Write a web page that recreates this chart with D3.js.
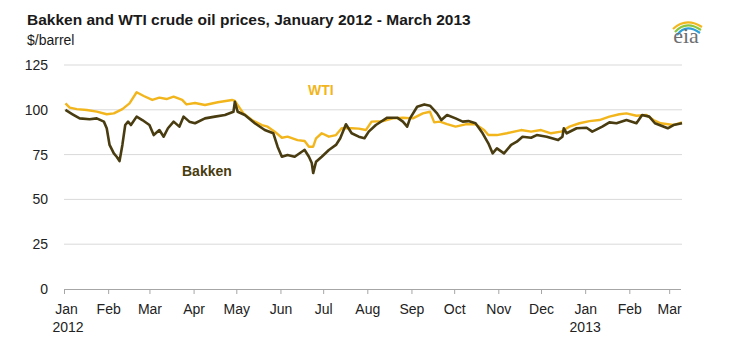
<!DOCTYPE html>
<html>
<head>
<meta charset="utf-8">
<script src="https://cdn.jsdelivr.net/npm/d3@7"></script>
<style>
  html, body { margin: 0; padding: 0; background: #fff; }
  svg { display: block; font-family: "Liberation Sans", Arial, sans-serif; }
</style>
</head>
<body>
<svg id="chart" width="734" height="345"></svg>
<script>
// Daily spot prices, $/barrel
const wtiDates = [
  "2012-01-02","2012-01-05","2012-01-10","2012-01-17","2012-01-24","2012-01-31",
  "2012-02-05","2012-02-11","2012-02-16","2012-02-21","2012-02-26","2012-03-03",
  "2012-03-08","2012-03-13","2012-03-18","2012-03-24","2012-03-27","2012-04-02",
  "2012-04-09","2012-04-18","2012-04-28","2012-04-30","2012-05-06","2012-05-12",
  "2012-05-19","2012-05-23","2012-05-28","2012-06-02","2012-06-06","2012-06-13",
  "2012-06-18","2012-06-21","2012-06-24","2012-06-26","2012-06-30","2012-07-05",
  "2012-07-10","2012-07-14","2012-07-21","2012-07-26","2012-07-31","2012-08-04",
  "2012-08-12","2012-08-19","2012-08-26","2012-09-02","2012-09-09","2012-09-14",
  "2012-09-17","2012-09-21","2012-09-26","2012-10-02","2012-10-09","2012-10-16",
  "2012-10-22","2012-10-25","2012-10-31","2012-11-07","2012-11-17","2012-11-24",
  "2012-12-01","2012-12-08","2012-12-15","2012-12-21","2012-12-28","2013-01-04",
  "2013-01-11","2013-01-18","2013-01-25","2013-01-30","2013-02-06","2013-02-13",
  "2013-02-18","2013-02-23","2013-03-04","2013-03-10"
];
const wtiValues = [
  103.6,101.2,100.4,99.9,99.0,97.5,
  98.0,100.4,103.6,109.8,107.7,105.5,
  106.8,106.0,107.3,105.5,103.0,103.8,
  102.7,104.2,105.5,105.0,98.0,94.3,
  91.5,90.6,87.8,84.4,85.0,83.1,
  82.6,79.4,79.4,84.1,86.9,85.0,
  85.9,89.7,89.7,89.5,88.7,93.4,
  93.7,95.2,95.6,95.2,98.0,98.9,
  93.0,93.4,92.0,90.6,91.9,91.9,
  88.7,85.9,85.9,86.9,88.7,87.8,
  88.7,86.9,87.8,90.6,92.5,93.7,
  94.3,96.2,97.5,98.0,96.7,97.1,
  94.3,92.5,91.5,93.0
];

const bakkenDates = [
  "2012-01-02","2012-01-07","2012-01-12","2012-01-19","2012-01-24","2012-01-29",
  "2012-01-31","2012-02-02","2012-02-05","2012-02-07","2012-02-09","2012-02-11",
  "2012-02-13","2012-02-15","2012-02-17","2012-02-21","2012-02-25","2012-03-01",
  "2012-03-04","2012-03-08","2012-03-11","2012-03-14","2012-03-18","2012-03-22",
  "2012-03-25","2012-03-29","2012-04-02","2012-04-09","2012-04-16","2012-04-23",
  "2012-04-29","2012-04-30","2012-05-02","2012-05-07","2012-05-14","2012-05-21",
  "2012-05-27","2012-05-30","2012-06-02","2012-06-06","2012-06-11","2012-06-16",
  "2012-06-18","2012-06-21","2012-06-23","2012-06-24","2012-06-26","2012-06-30",
  "2012-07-05","2012-07-10","2012-07-13","2012-07-17","2012-07-21","2012-07-26",
  "2012-07-30","2012-08-02","2012-08-07","2012-08-15","2012-08-22","2012-08-26",
  "2012-08-29","2012-08-31","2012-09-05","2012-09-10","2012-09-14","2012-09-19",
  "2012-09-22","2012-09-26","2012-10-02","2012-10-07","2012-10-11","2012-10-16",
  "2012-10-21","2012-10-25","2012-10-28","2012-10-31","2012-11-05","2012-11-10",
  "2012-11-14","2012-11-18","2012-11-24","2012-11-28","2012-12-05","2012-12-13",
  "2012-12-16","2012-12-17","2012-12-19","2012-12-26","2013-01-02","2013-01-06",
  "2013-01-13","2013-01-18","2013-01-23","2013-01-30","2013-02-06","2013-02-10",
  "2013-02-15","2013-02-19","2013-02-28","2013-03-04","2013-03-10"
];
const bakkenValues = [
  99.9,97.5,95.2,94.7,95.2,93.4,
  89.7,80.4,75.7,73.8,71.4,80.4,
  91.5,93.4,91.5,96.2,94.3,91.5,
  85.9,88.7,85.0,89.7,93.4,90.6,
  96.2,93.4,92.5,95.2,96.2,97.1,
  98.9,104.5,98.9,97.1,92.5,88.7,
  86.9,79.4,73.8,74.8,73.8,76.6,
  77.6,73.8,70.3,64.7,71.0,73.8,
  77.6,80.4,84.1,91.9,86.9,85.0,
  84.1,87.8,91.5,95.6,95.6,93.4,
  90.6,95.2,101.7,103.0,102.3,98.0,
  94.3,97.1,95.2,93.4,93.7,92.5,
  86.9,81.3,75.7,78.5,75.7,80.4,
  82.2,85.0,84.4,85.9,85.0,83.1,
  85.0,89.7,86.9,89.7,90.0,87.8,
  90.6,93.0,92.5,94.3,92.5,97.1,
  96.2,92.5,89.7,91.5,92.5
];

const yTicks = [0, 25, 50, 75, 100, 125];
const monthLabels = ["Jan","Feb","Mar","Apr","May","Jun","Jul","Aug","Sep","Oct","Nov","Dec","Jan","Feb","Mar"];
const monthStarts = [
  "2012-01-01","2012-02-01","2012-03-01","2012-04-01","2012-05-01","2012-06-01",
  "2012-07-01","2012-08-01","2012-09-01","2012-10-01","2012-11-01","2012-12-01",
  "2013-01-01","2013-02-01","2013-03-01"
];
const yearLabels = [{label: "2012", at: "2012-01-01"}, {label: "2013", at: "2013-01-01"}];

const parse = d3.utcParse("%Y-%m-%d");
const wti = wtiDates.map((d, i) => ({date: parse(d), value: wtiValues[i]}));
const bakken = bakkenDates.map((d, i) => ({date: parse(d), value: bakkenValues[i]}));

const svg = d3.select("#chart");
const plotLeft = 64, plotRight = 682, plotTop = 65, plotBottom = 289;

const x = d3.scaleUtc()
  .domain([parse("2012-01-01"), parse("2013-03-10")])
  .range([plotLeft, plotRight]);
const y = d3.scaleLinear().domain([0, 125]).range([plotBottom, plotTop]);

// Title and unit
svg.append("text")
  .attr("x", 27).attr("y", 25)
  .attr("font-size", 15.5).attr("font-weight", "bold").attr("fill", "#1a1a1a")
  .text("Bakken and WTI crude oil prices, January 2012 - March 2013");
svg.append("text")
  .attr("x", 27).attr("y", 45)
  .attr("font-size", 14).attr("fill", "#1a1a1a")
  .text("$/barrel");

// eia mark
const logo = svg.append("g").attr("transform", "translate(686,38)");
[["#f2b71f", -13], ["#8cc63e", -10], ["#2e9fd8", -7]].forEach(([c, dy], i) => {
  logo.append("path")
    .attr("d", `M${-13 + i * 2},${dy + 4} Q0,${dy - 8} ${16 - i},${dy + 2}`)
    .attr("fill", "none").attr("stroke", c).attr("stroke-width", 2.2);
});
logo.append("text")
  .attr("x", 0).attr("y", 5).attr("text-anchor", "middle")
  .attr("font-family", "'Liberation Serif', 'DejaVu Serif', serif")
  .attr("font-size", 22).attr("fill", "#6d6e71")
  .text("eia");

// Gridlines
svg.append("g")
  .selectAll("line")
  .data(yTicks.filter(t => t > 0))
  .join("line")
  .attr("x1", plotLeft).attr("x2", plotRight)
  .attr("y1", d => y(d)).attr("y2", d => y(d))
  .attr("stroke", "#d9d9d9").attr("stroke-width", 1);

// Y axis labels
const yAxis = d3.axisLeft(y).tickValues(yTicks).tickSize(0).tickPadding(0);
svg.append("g")
  .attr("transform", "translate(48,0)")
  .call(yAxis)
  .call(g => g.select(".domain").remove())
  .call(g => g.selectAll("text")
    .attr("font-family", "'Liberation Sans', Arial, sans-serif")
    .attr("font-size", 14).attr("fill", "#222"));

// X axis with month ticks
const xAxis = d3.axisBottom(x)
  .tickValues(monthStarts.map(parse))
  .tickFormat((d, i) => monthLabels[i])
  .tickSizeOuter(0).tickSizeInner(5).tickPadding(10);
const gx = svg.append("g")
  .attr("transform", `translate(0,${plotBottom})`)
  .call(xAxis);
gx.select(".domain").attr("stroke", "#a6a6a6").attr("d", `M${plotLeft},0.5H${plotRight - 1}`);
gx.selectAll(".tick line").attr("stroke", "#a6a6a6");
gx.selectAll(".tick text")
  .attr("font-family", "'Liberation Sans', Arial, sans-serif")
  .attr("font-size", 14).attr("fill", "#222")
  .attr("dx", (d, i) => i === 0 ? 2 : 0);

svg.append("g")
  .selectAll("text")
  .data(yearLabels)
  .join("text")
  .attr("x", d => x(parse(d.at)) + (d.label === "2012" ? 4 : 0))
  .attr("y", plotBottom + 43)
  .attr("text-anchor", "middle")
  .attr("font-size", 14).attr("fill", "#222")
  .text(d => d.label);

// Price lines
const line = d3.line().x(d => x(d.date)).y(d => y(d.value));
svg.append("path").datum(wti)
  .attr("d", line).attr("fill", "none")
  .attr("stroke", "#f2b51c").attr("stroke-width", 2.4).attr("stroke-linejoin", "round");
svg.append("path").datum(bakken)
  .attr("d", line).attr("fill", "none")
  .attr("stroke", "#483c10").attr("stroke-width", 2.6).attr("stroke-linejoin", "round");

// Series labels
svg.append("text")
  .attr("x", 308).attr("y", 95)
  .attr("font-size", 14).attr("font-weight", "bold").attr("fill", "#f2b51c")
  .text("WTI");
svg.append("text")
  .attr("x", 182).attr("y", 176)
  .attr("font-size", 14).attr("font-weight", "bold").attr("fill", "#483c10")
  .text("Bakken");
</script>
</body>
</html>
